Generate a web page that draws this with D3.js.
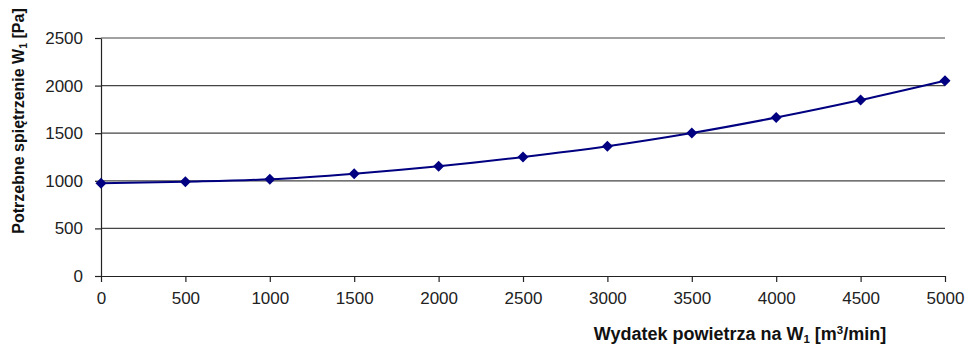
<!DOCTYPE html>
<html><head><meta charset="utf-8">
<script src="https://cdn.jsdelivr.net/npm/d3@7"></script>
<style>body{margin:0;background:#fff}svg{display:block}</style>
</head><body><svg id="c" width="967" height="345"></svg>
<script>
const xValues = [0, 500, 1000, 1500, 2000, 2500, 3000, 3500, 4000, 4500, 5000];
const yValues = [973, 990, 1016, 1075, 1153, 1250, 1363, 1502, 1665, 1849, 2052];
const xTicks = [0, 500, 1000, 1500, 2000, 2500, 3000, 3500, 4000, 4500, 5000];
const yTicks = [0, 500, 1000, 1500, 2000, 2500];

const svg = d3.select("#c");
const m = {l: 101, r: 945, t: 38, b: 276};
const x = d3.scaleLinear().domain([0, 5000]).range([m.l, m.r]);
const y = d3.scaleLinear().domain([0, 2500]).range([m.b, m.t]);
const font = "Liberation Sans, Arial, sans-serif";

// gridlines
svg.append("g").selectAll("line").data(yTicks.filter(d => d > 0)).join("line")
  .attr("x1", m.l).attr("x2", m.r).attr("y1", d => y(d)).attr("y2", d => y(d))
  .attr("stroke", "#444").attr("stroke-width", 1.2);

const xa = svg.append("g").attr("transform", `translate(0,${m.b})`)
  .call(d3.axisBottom(x).tickValues(xTicks).tickSize(6).tickSizeOuter(0).tickPadding(10).tickFormat(d3.format("d")));
const ya = svg.append("g").attr("transform", `translate(${m.l},0)`)
  .call(d3.axisLeft(y).tickValues(yTicks).tickSize(6).tickSizeOuter(0).tickPadding(12).tickFormat(d3.format("d")));
[xa, ya].forEach(a => {
  a.selectAll("text").attr("font-family", font).attr("font-size", 17).attr("fill", "#222");
  a.selectAll("line,path").attr("stroke", "#222").attr("stroke-width", 1.2);
});

const data = xValues.map((v, i) => [v, yValues[i]]);
svg.append("path").datum(data)
  .attr("d", d3.line().x(d => x(d[0])).y(d => y(d[1])).curve(d3.curveMonotoneX))
  .attr("fill", "none").attr("stroke", "#000080").attr("stroke-width", 2);

svg.append("g").selectAll("path").data(data).join("path")
  .attr("transform", d => `translate(${x(d[0])},${y(d[1])})`)
  .attr("d", "M0,-5.5L5.5,0L0,5.5L-5.5,0Z")
  .attr("fill", "#000080");

// axis titles
const xt = svg.append("text").attr("x", 740).attr("y", 340).attr("text-anchor", "middle")
  .attr("font-family", font).attr("font-size", 18).attr("font-weight", "bold").attr("fill", "#111");
xt.append("tspan").text("Wydatek powietrza na W");
xt.append("tspan").text("1").attr("font-size", 11.5).attr("dy", 3);
xt.append("tspan").text(" [m").attr("dy", -3);
xt.append("tspan").text("3").attr("font-size", 11.5).attr("dy", -6);
xt.append("tspan").text("/min]").attr("dy", 6);

const yt = svg.append("text").attr("transform", "translate(24,121) rotate(-90)").attr("text-anchor", "middle")
  .attr("font-family", font).attr("font-size", 16).attr("font-weight", "bold").attr("fill", "#111");
yt.append("tspan").text("Potrzebne spiętrzenie W");
yt.append("tspan").text("1").attr("font-size", 10.5).attr("dy", 3);
yt.append("tspan").text(" [Pa]").attr("dy", -3);
</script></body></html>
